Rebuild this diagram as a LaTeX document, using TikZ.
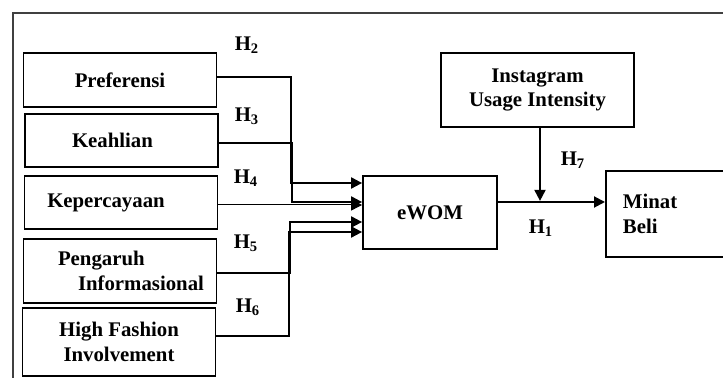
\documentclass[tikz,border=0pt]{standalone}
\usepackage{fontspec}
\setmainfont{Liberation Serif}
\usepackage{tikz}
\usetikzlibrary{arrows.meta,positioning,calc}

\begin{document}
\begin{tikzpicture}[
  x=0.5pt, y=-0.5pt,
  font=\fontsize{10.4}{12.4}\selectfont\bfseries,
  frame/.style={line width=0.8pt, draw=black!75},
  var/.style={draw, line width=0.9pt, inner sep=0pt, align=center, minimum width=96.5pt},
  link/.style={-{Triangle[length=5.5pt,width=5.5pt]}, line width=1pt},
  weak/.style={-{Triangle[length=5.5pt,width=5.5pt]}, line width=0.5pt},
  hyp/.style={inner sep=0pt},
]
\useasboundingbox (0,0) rectangle (723,378);
\clip (0,0) rectangle (723,378);
% outer frame
\draw[frame] (13,378) -- (13,13) -- (723,13);
% exogenous variables
\node[var, minimum height=27pt] (pref) at (120,80) {Preferensi};
\node[var, minimum height=26.5pt] (keah) at (121.5,140.5) {Keahlian\hspace*{9pt}};
\node[var, minimum height=26.5pt] (kepe) at (121,202.5) {Kepercayaan\hspace*{15pt}};
\node[var, minimum height=32pt, align=left] (peng) at (120,271)
  {\hspace*{11pt}Pengaruh\\\hspace*{21pt}Informasional};
\node[var, minimum height=34pt] (hfi) at (119,342) {High Fashion\\Involvement};
% mediator, moderator and outcome
\node[var, minimum width=67pt, minimum height=36.5pt] (ewom) at (430,212.5) {eWOM};
\node[var, minimum height=37pt] (inst) at (537.5,90) {Instagram\\Usage Intensity};
\node[var, anchor=north west, minimum width=0pt, minimum height=43pt,
  text width=50.5pt, inner xsep=8.5pt, align=left] (minat) at (605,170) {Minat\\Beli};
% hypotheses
\node[hyp] (h2) at (247,45) {H\textsubscript{2}};
\node[hyp] (h3) at (247,116) {H\textsubscript{3}};
\node[hyp] (h4) at (246,178) {H\textsubscript{4}};
\node[hyp] (h5) at (246,243) {H\textsubscript{5}};
\node[hyp] (h6) at (248,307) {H\textsubscript{6}};
\node[hyp] (h7) at (573,160) {H\textsubscript{7}};
\node[hyp] (h1) at (541,228) {H\textsubscript{1}};
% paths into eWOM
\draw[link] ($(pref.east)+(0,-3)$) -- ++(74,0) |- ($(ewom.west)+(0,-29.5)$);
\draw[link] ($(keah.east)+(0,2.5)$) -- ++(73,0) |- ($(ewom.west)+(0,-10.5)$);
\draw[weak] ($(kepe.east)+(0,2.5)$) -- ($(ewom.west)+(0,-7.5)$);
\draw[link] ($(peng.east)+(0,2)$) -- ++(73,0) |- ($(ewom.west)+(0,9.5)$);
\draw[link] ($(hfi.east)+(0,-6)$) -- ++(73,0) |- ($(ewom.west)+(0,19.5)$);
% eWOM to Minat Beli, moderated
\draw[link] ($(ewom.east)+(0,-10.5)$) coordinate (j) -- (j -| minat.west);
\draw[link] ($(inst.south)+(2.5,0)$) -- ++(0,73);
\end{tikzpicture}
\end{document}
